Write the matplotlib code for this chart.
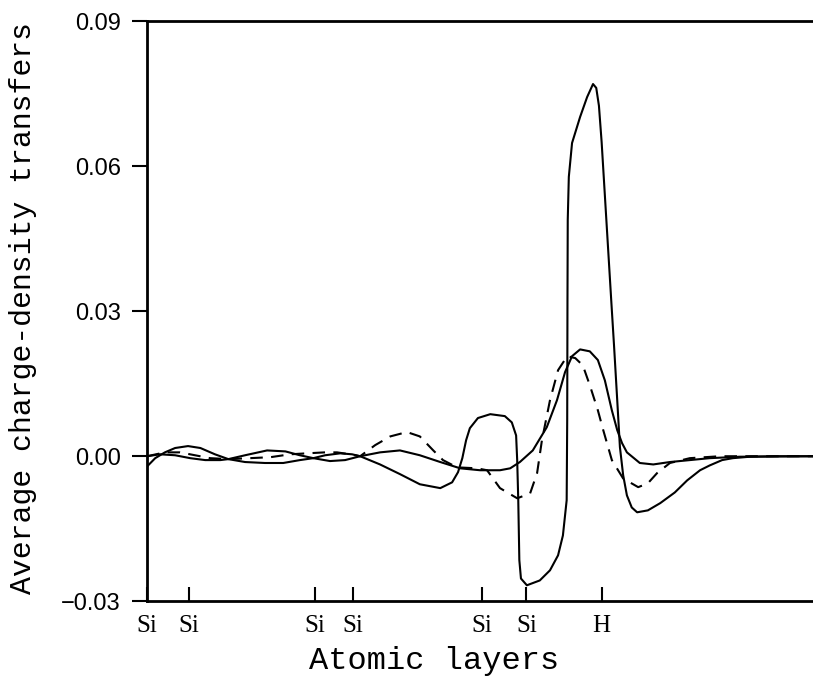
import matplotlib
matplotlib.use('Agg')
import matplotlib.pyplot as plt
import numpy as np

# layer positions (Angstrom) and labels
layerPos = [0.0, 0.78, 3.12, 3.83, 6.23, 7.05, 8.45]
layerNames = ['Si', 'Si', 'Si', 'Si', 'Si', 'Si', 'H']

# solid curve with the large peak at H
xA = [0.00, 0.15, 0.33, 0.52, 0.76, 0.99, 1.26, 1.51, 1.82, 2.19, 2.53, 2.84, 3.09, 3.31, 3.59, 3.81,
      3.96, 4.33, 4.70, 5.07, 5.45, 5.67, 5.78, 5.86, 5.93, 6.00, 6.15, 6.38, 6.65, 6.78, 6.86, 6.88,
      6.90, 6.92, 6.95, 7.06, 7.30, 7.49, 7.64, 7.73, 7.80, 7.81, 7.815, 7.82, 7.84, 7.90, 8.05, 8.18,
      8.29, 8.35, 8.40, 8.45, 8.51, 8.57, 8.63, 8.68, 8.74, 8.79, 8.85, 8.92, 9.01, 9.11, 9.31, 9.54,
      9.81, 10.04, 10.28, 10.46, 10.69, 10.89, 11.21, 11.77, 12.38]
yA = [-0.0021, -0.0004, 0.0008, 0.0017, 0.0021, 0.0017, 0.0004, -0.0006, -0.0012, -0.0014, -0.0014,
      -0.0008, -0.0004, 0.0002, 0.0006, 0.0004, 0.0, -0.0017, -0.0037, -0.0058, -0.0066, -0.0054,
      -0.0033, -0.0004, 0.0033, 0.0058, 0.0079, 0.0087, 0.0083, 0.0070, 0.0043, -0.0008, -0.0091,
      -0.0215, -0.0253, -0.0267, -0.0257, -0.0236, -0.0205, -0.0164, -0.0091, 0.0075, 0.0323, 0.0489,
      0.0578, 0.0648, 0.0702, 0.0743, 0.0770, 0.0762, 0.0725, 0.0650, 0.0540, 0.0430, 0.0320, 0.0230,
      0.0116, 0.0019, -0.0039, -0.0081, -0.0106, -0.0116, -0.0112, -0.0097, -0.0075, -0.0050, -0.0029,
      -0.0019, -0.0008, -0.0004, -0.0001, 0.0, 0.0]

# solid curve with the moderate peak
xB = [0.00, 0.24, 0.52, 0.80, 1.08, 1.36, 1.51, 1.82, 2.23, 2.57, 2.84, 3.09, 3.40, 3.68, 3.96, 4.33,
      4.70, 5.07, 5.45, 5.82, 6.19, 6.56, 6.75, 6.93, 7.17, 7.43, 7.62, 7.77, 7.90, 8.05, 8.23, 8.38,
      8.51, 8.64, 8.74, 8.83, 8.92, 9.16, 9.41, 9.72, 10.09, 10.46, 11.02, 12.38]
yB = [0.0, 0.0004, 0.0002, -0.0004, -0.0008, -0.0008, -0.0006, 0.0002, 0.0012, 0.0010, 0.0002, -0.0004,
      -0.0010, -0.0008, 0.0, 0.0008, 0.0012, 0.0002, -0.0012, -0.0025, -0.0029, -0.0029, -0.0025,
      -0.0012, 0.0012, 0.0060, 0.0116, 0.0174, 0.0207, 0.0221, 0.0217, 0.0199, 0.0157, 0.0095, 0.0054,
      0.0027, 0.0008, -0.0014, -0.0017, -0.0012, -0.0008, -0.0004, -0.0001, 0.0]

# dashed curve
xC = [0.00, 0.33, 0.61, 0.89, 1.17, 1.51, 1.91, 2.29, 2.66, 2.97, 3.31, 3.53, 3.77, 3.96, 4.24, 4.52,
      4.83, 5.07, 5.32, 5.50, 5.76, 6.13, 6.32, 6.56, 6.88, 7.12, 7.25, 7.34, 7.49, 7.64, 7.81, 7.96,
      8.10, 8.23, 8.38, 8.48, 8.64, 8.85, 9.13, 9.31, 9.48, 9.72, 10.09, 10.65, 12.38]
yC = [0.0, 0.0008, 0.0008, 0.0002, -0.0004, -0.0006, -0.0004, -0.0002, 0.0004, 0.0006, 0.0008, 0.0008,
      0.0004, 0.0, 0.0023, 0.0041, 0.0050, 0.0041, 0.0012, -0.0008, -0.0023, -0.0025, -0.0029, -0.0066,
      -0.0087, -0.0077, -0.0035, 0.0033, 0.0116, 0.0178, 0.0207, 0.0203, 0.0188, 0.0147, 0.0095, 0.0054,
      -0.0008, -0.0046, -0.0064, -0.0056, -0.0035, -0.0014, -0.0004, 0.0, 0.0]

yTicks = [-0.03, 0.0, 0.03, 0.06, 0.09]

fig = plt.figure(figsize=(8.13, 6.84), dpi=100)
ax = fig.add_axes([0.181, 0.121, 0.819, 0.848])

ax.plot(xA, yA, color='black', lw=1.5)
ax.plot(xB, yB, color='black', lw=1.5)
ax.plot(xC, yC, color='black', lw=1.5, dashes=(6, 4))

ax.set_xlim(0, 12.38)
ax.set_ylim(-0.03, 0.09)

ax.spines['right'].set_visible(False)
for s in ['left', 'top', 'bottom']:
    ax.spines[s].set_linewidth(2)

ax.set_yticks(yTicks)
ax.set_yticklabels(['\u22120.03' if v < 0 else '%.2f' % v for v in yTicks],
                   fontsize=17, family='Liberation Sans')
ax.tick_params(axis='y', direction='out', length=11, width=1.5, pad=8)

ax.set_xticks(layerPos)
ax.set_xticklabels(layerNames, fontsize=18, family='Liberation Serif')
ax.tick_params(axis='x', direction='in', length=10, width=1.5, pad=10)

ax.set_xlabel('Atomic layers', fontsize=23, family='Liberation Mono')
ax.xaxis.set_label_coords((434 - 147) / 666, -0.078)
ax.set_ylabel('Average charge-density transfers', fontsize=21.5, family='Liberation Mono')
ax.yaxis.set_label_coords(-0.166, 0.505)

fig.savefig('out.png', dpi=100)
